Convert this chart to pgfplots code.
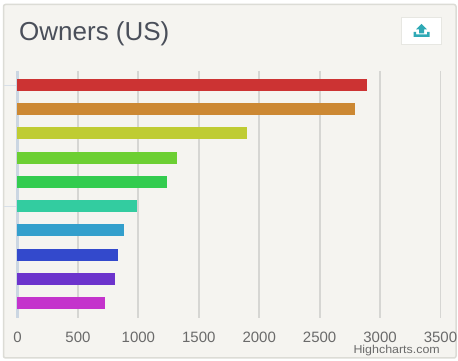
\documentclass[border=0pt]{standalone}
\usepackage{pgfplots}
\pgfplotsset{compat=1.18}
\usepackage{fontspec}
\setmainfont{Liberation Sans}
\definecolor{cardbg}{HTML}{F5F4F0}
\definecolor{cardline}{HTML}{DCDCD6}
\definecolor{gridc}{HTML}{D6D6D3}
\definecolor{axisc}{HTML}{CBD6E2}
\definecolor{labelc}{HTML}{6A6A6A}
\definecolor{titlec}{HTML}{4A4F5A}
\definecolor{teal1}{HTML}{2FA9B5}
\definecolor{c0}{HTML}{CC3333}
\definecolor{c1}{HTML}{CC8833}
\definecolor{c2}{HTML}{BFCC33}
\definecolor{c3}{HTML}{6CCF33}
\definecolor{c4}{HTML}{33CC4F}
\definecolor{c5}{HTML}{33CCA0}
\definecolor{c6}{HTML}{339FCC}
\definecolor{c7}{HTML}{3349CC}
\definecolor{c8}{HTML}{6C33CC}
\definecolor{c9}{HTML}{C433CC}
\begin{document}
\begin{tikzpicture}
\useasboundingbox (0pt,0pt) rectangle (458pt,361pt);
\fill[white] (0pt,0pt) rectangle (458pt,361pt);
\draw[cardline,fill=cardbg,line width=1.5pt,rounded corners=2pt] (3.5pt,3pt) rectangle (456pt,356.5pt);
\node[anchor=west,inner sep=0pt,text=titlec,font=\fontsize{26}{30}\selectfont] at (19pt,327pt) {Owners (US)};
\draw[cardline!70,fill=white,line width=0.8pt] (401.5pt,317pt) rectangle (441.5pt,343.5pt);
\fill[teal1] (413.5pt,329pt) -- (416pt,329pt) -- (416pt,326.5pt) -- (427pt,326.5pt) -- (427pt,329pt) -- (429.5pt,329pt) -- (429.5pt,324pt) -- (413.5pt,324pt) -- cycle;
\fill[teal1] (419pt,327.5pt) -- (424pt,327.5pt) -- (424pt,331.5pt) -- (427pt,331.5pt) -- (421.5pt,337pt) -- (416pt,331.5pt) -- (419pt,331.5pt) -- cycle;
\begin{axis}[
  at={(17.5pt,43pt)},anchor=south west,
  scale only axis,width=423pt,height=247pt,
  xmin=0,xmax=3500,ymin=-0.58,ymax=9.62,y dir=reverse,
  xbar,bar shift=0pt,bar width=12pt,
  axis x line*=bottom,axis y line*=left,
  x axis line style={draw=none,-},
  y axis line style={draw=axisc,line width=2.2pt,-},
  xtick={0,500,1000,1500,2000,2500,3000,3500},
  ytick={0,5},yticklabels={},
  xmajorgrids,ymajorgrids=false,
  grid style={gridc,line width=1.9pt},
  tick align=outside,
  x tick style={draw=none},
  y tick style={draw=axisc!75,line width=1pt},
  major tick length=13.5pt,
  xticklabel style={text=labelc,font=\fontsize{15}{17}\selectfont,yshift=3pt},
  /pgf/number format/assume math mode=true,
  /pgf/number format/1000 sep={},
  clip=false,
  every axis plot/.append style={draw=none},
]
\addplot[fill=c0] coordinates {(2888,0)};
\addplot[fill=c1] coordinates {(2792,1)};
\addplot[fill=c2] coordinates {(1898,2)};
\addplot[fill=c3] coordinates {(1317,3)};
\addplot[fill=c4] coordinates {(1234,4)};
\addplot[fill=c5] coordinates {(991,5)};
\addplot[fill=c6] coordinates {(880,6)};
\addplot[fill=c7] coordinates {(831,7)};
\addplot[fill=c8] coordinates {(806,8)};
\addplot[fill=c9] coordinates {(725,9)};
\end{axis}
\node[anchor=east,inner sep=0pt,text=labelc,xscale=1.08,font=\fontsize{11.5}{13}\selectfont] at (440pt,10pt) {Highcharts.com};
\end{tikzpicture}
\end{document}
